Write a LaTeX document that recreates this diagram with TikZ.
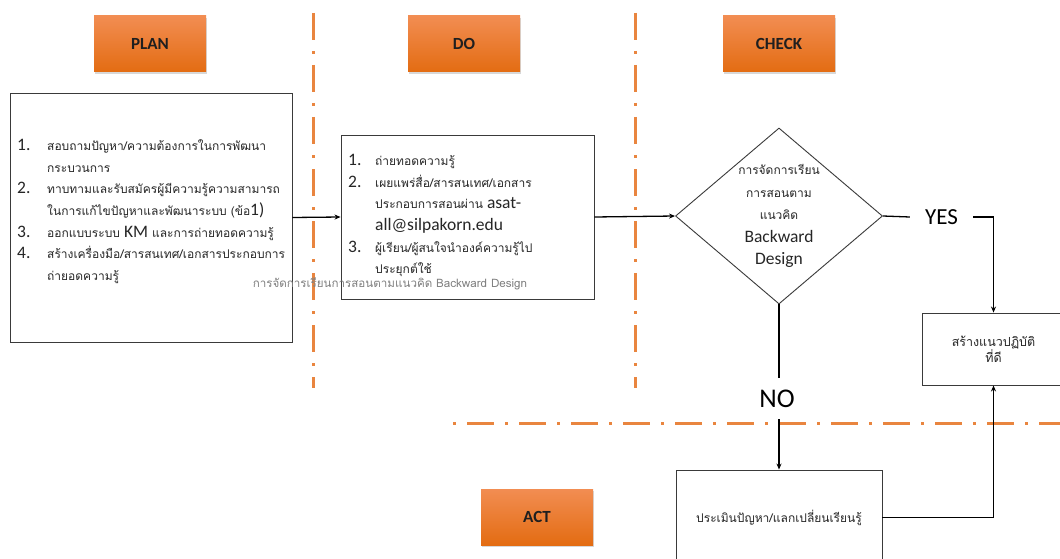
\documentclass[tikz,border=0pt]{standalone}
\usepackage{fontspec}
\setmainfont{Carlito}
\newfontfamily\thai[Script=Thai]{Loma}
\newfontfamily\calib{Carlito}
\usetikzlibrary{shapes.geometric,shadows,arrows.meta}
\definecolor{orTop}{HTML}{F28D52}
\definecolor{orBot}{HTML}{E36C12}
\definecolor{orLine}{HTML}{E9853F}
\definecolor{boxLine}{HTML}{3A3A3A}
\newcommand\latn[1]{{\calib\fontsize{17.5}{20}\selectfont #1}}
\begin{document}
\begin{tikzpicture}[x=1pt,y=-1pt,
  phase/.style={rectangle, minimum width=112pt, minimum height=56pt, inner sep=0pt,
    top color=orTop, bottom color=orBot, draw=none,
    font=\calib\fontsize{17}{20}\selectfont\bfseries, text=black!88,
    drop shadow={shadow xshift=1pt,shadow yshift=-2pt,opacity=0.3}},
  tbox/.style={draw=boxLine, line width=0.9pt, rectangle, inner sep=0pt},
  thtext/.style={font=\thai\fontsize{12}{21.7}\selectfont, text=black!85, inner sep=0pt},
  conn/.style={draw=black, line width=1.3pt},
  arr/.style={conn, -{Stealth[length=6pt,width=5pt]}},
  sep/.style={draw=orLine, line width=3pt, dash pattern=on 27pt off 11pt on 3pt off 11pt},
  yesno/.style={font=\calib\fontsize{23}{25}\selectfont, text=black, inner sep=0pt}
]
\useasboundingbox (0,0) rectangle (1060,559);
\fill[white] (0,0) rectangle (1060,559);

% separators
\draw[sep] (313,13) -- (313,388);
\draw[sep] (635,13) -- (635,388);
\draw[sep, dash phase=38pt] (453,423) -- (1070,423);

% phase labels
\node[phase] (pplan) at (150,44) {PLAN};
\node[phase] (pdo) at (464,44) {DO};
\node[phase] (pcheck) at (779,44) {CHECK};
\node[phase] (pact) at (537,517) {ACT};

% boxes
\node[tbox, minimum width=282pt, minimum height=249pt] (plan) at (151,217.5) {};
\node[tbox, minimum width=253pt, minimum height=164pt] (do) at (467.5,217) {};
\node[tbox, diamond, minimum width=207pt, minimum height=176pt] (chk) at (779,216) {};
\node[tbox, minimum width=143pt, minimum height=72pt] (good) at (993.5,349) {};
\node[tbox, minimum width=206pt, minimum height=95pt] (eval) at (779,517.5) {};

% texts
\node[thtext, align=left, anchor=north west] (plantext) at (17,139) {%
\makebox[30pt][l]{\latn{1.}}สอบถามปัญหา/ความต้องการในการพัฒนา\\
\hspace*{30pt}กระบวนการ\\
\makebox[30pt][l]{\latn{2.}}ทาบทามและรับสมัครผู้มีความรู้ความสามารถ\\
\hspace*{30pt}ในการแก้ไขปัญหาและพัฒนาระบบ (ข้อ\latn{1)}\\
\makebox[30pt][l]{\latn{3.}}ออกแบบระบบ \latn{KM} และการถ่ายทอดความรู้\\
\makebox[30pt][l]{\latn{4.}}สร้างเครื่องมือ/สารสนเทศ/เอกสารประกอบการ\\
\hspace*{30pt}ถ่ายอดความรู้};

\node[thtext, align=left, anchor=north west] (dotext) at (348,154) {%
\makebox[27pt][l]{\latn{1.}}ถ่ายทอดความรู้\\
\makebox[27pt][l]{\latn{2.}}เผยแพร่สื่อ/สารสนเทศ/เอกสาร\\
\hspace*{27pt}ประกอบการสอนผ่าน \latn{asat-}\\
\hspace*{27pt}\latn{all@silpakorn.edu}\\
\makebox[27pt][l]{\latn{3.}}ผู้เรียน/ผู้สนใจนำองค์ความรู้ไป\\
\hspace*{27pt}ประยุกต์ใช้};

\node[font=\thai\fontsize{11.6}{14}\selectfont, text=black!50, inner sep=0pt] (gray) at (390,284) {การจัดการเรียนการสอนตามแนวคิด Backward Design};

\node[thtext, align=center, font=\thai\fontsize{12}{22.5}\selectfont] (chktext) at (chk.center) {%
การจัดการเรียน\\ การสอนตาม\\ แนวคิด\\ \latn{Backward}\\ \latn{Design}};

\node[thtext, align=center, font=\thai\fontsize{12.5}{16}\selectfont] (goodtext) at (good.center) {สร้างแนวปฏิบัติ\\ ที่ดี};
\node[thtext] (evaltext) at (eval.center) {ประเมินปัญหา/แลกเปลี่ยนเรียนรู้};

\node[yesno, minimum width=63pt] (yes) at (941.5,217) {YES};
\node[yesno, font=\calib\fontsize{27}{29}\selectfont, minimum height=41pt] (no) at (777,398.5) {NO};

% connectors
\draw[arr] (plan.east) -- (do.west);
\draw[arr] (do.east) -- (chk.west);
\draw[conn] (chk.east) -- (yes.west);
\draw[arr] (yes.east) -| (good.north);
\draw[conn] (chk.south) -- (chk.south |- no.north);
\draw[arr] (eval.north |- no.south) -- (eval.north);
\draw[arr] (eval.east) -| (good.south);
\end{tikzpicture}
\end{document}
